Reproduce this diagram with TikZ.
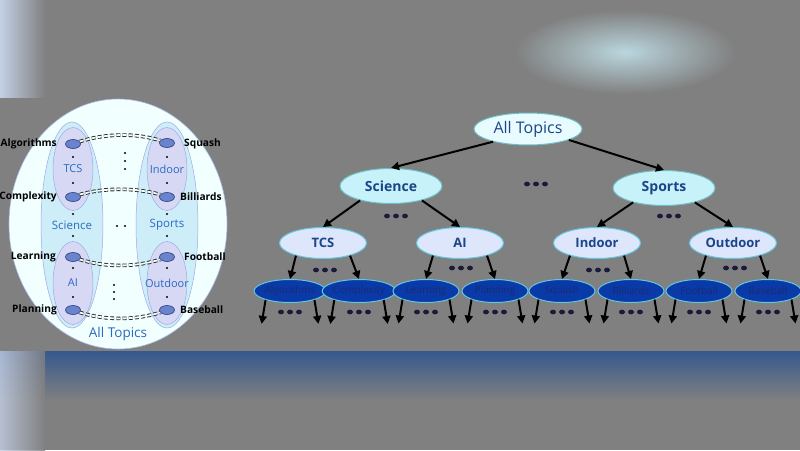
\documentclass[tikz,border=0pt]{standalone}
\usepackage{fontspec}
\setmainfont{Open Sans}
\usetikzlibrary{shapes.geometric,arrows.meta}
\definecolor{bggray}{HTML}{808080}
\definecolor{outerfill}{HTML}{F2FFFF}
\definecolor{outerline}{HTML}{A8B8E8}
\definecolor{midfill}{HTML}{CDEEF8}
\definecolor{innerfill}{HTML}{D6D8F4}
\definecolor{innerline}{HTML}{A0A8E4}
\definecolor{smallfill}{HTML}{6A84CC}
\definecolor{smallline}{HTML}{2A3A80}
\definecolor{lblue}{HTML}{2A6AC0}
\definecolor{rootfill}{HTML}{E8FCFF}
\definecolor{tealline}{HTML}{6EC0C8}
\definecolor{lvlone}{HTML}{C8F2FA}
\definecolor{lvltwo}{HTML}{DDE6FB}
\definecolor{leaffill}{HTML}{0A3AA8}
\definecolor{leafline}{HTML}{60C8E0}
\definecolor{treetext}{HTML}{1C4488}
\definecolor{leaftext}{HTML}{1A2A70}
\definecolor{dotcol}{HTML}{1A1A3A}
\definecolor{blob}{HTML}{BAD6DE}
\definecolor{bandblue}{HTML}{36588E}
\definecolor{edgelight}{HTML}{C4D0E6}
\newcommand\dotrow[2]{\foreach \dd in {-9,0,9}{\fill[dotcol] (#1+\dd,#2) ellipse (3 and 2.4);}}
\newcommand\smalldot[2]{\fill[black] (#1,#2) circle (1.2);}
\tikzset{
  bigell/.style={ellipse, draw=outerline, line width=0.6pt, inner sep=0pt},
  midell/.style={ellipse, draw=innerline, fill=midfill, line width=0.5pt, inner sep=0pt, minimum width=62, minimum height=206},
  inell/.style={ellipse, draw=innerline, fill=innerfill, line width=0.5pt, inner sep=0pt, minimum width=40, minimum height=83},
  smallell/.style={ellipse, draw=smallline, fill=smallfill, line width=0.6pt, inner sep=0pt, minimum width=15, minimum height=9},
  ltxt/.style={font=\fontsize{10.2}{12}\selectfont\bfseries, text=black, inner sep=1pt},
  btxt/.style={font=\fontsize{11}{13}\selectfont, text=lblue, inner sep=0pt},
  dconn/.style={dash pattern=on 4pt off 2.2pt, double=outerfill, double distance=1.8pt, line width=0.9pt, draw=black!85},
  rootn/.style={ellipse, draw=tealline, fill=rootfill, line width=1pt, minimum width=108, minimum height=32, inner sep=0pt, font=\fontsize{16}{18}\selectfont, text=treetext},
  onen/.style={ellipse, draw=tealline, fill=lvlone, line width=1pt, minimum width=102, minimum height=35, inner sep=0pt, font=\fontsize{14}{16}\selectfont\bfseries, text=treetext},
  twon/.style={ellipse, draw=leafline, fill=lvltwo, line width=1pt, minimum width=87, minimum height=31, inner sep=0pt, font=\fontsize{13}{15}\selectfont\bfseries, text=treetext},
  leafn/.style={ellipse, draw=leafline, fill=leaffill, line width=1pt, minimum width=66, minimum height=23, inner sep=0pt, font=\fontsize{10}{12}\selectfont, text=leaftext},
  tarr/.style={line width=2pt, -{Triangle[length=8pt,width=8pt]}, draw=black},
}
\begin{document}
\begin{tikzpicture}[x=1pt,y=-1pt]
\useasboundingbox (0,0) rectangle (800,450);
% background
\fill[bggray] (0,0) rectangle (800,450);
\shade[inner color=blob, outer color=bggray] (625,52) ellipse (110 and 42);
\shade[left color=edgelight, right color=bggray] (0,0) rectangle (45,98);
\shade[top color=bandblue, bottom color=bggray] (0,351) rectangle (800,400);
\shade[left color=edgelight, right color=bggray, opacity=0.8] (0,351) rectangle (45,450);
\fill[bggray] (0,98) rectangle (800,351);

% ---------------- left panel ----------------
\node[bigell, fill=outerfill, minimum width=218, minimum height=250] (outer) at (118,224) {};
\node[midell] (scie) at (72,225) {};
\node[midell] (spoe) at (167,225) {};
\node[inell] (tcse) at (73,169) {};
\node[inell] (aie) at (73,283) {};
\node[inell] (inde) at (167,169) {};
\node[inell] (oute) at (167,283) {};

\node[smallell] (la) at (73,144) {};
\node[smallell] (lc) at (73,197) {};
\node[smallell] (ll) at (73,257) {};
\node[smallell] (lp) at (73,310) {};
\node[smallell] (rs) at (167,143) {};
\node[smallell] (rb) at (167,197) {};
\node[smallell] (rf) at (167,257) {};
\node[smallell] (rba) at (167,310) {};

\node[ltxt, anchor=east] (tA) at (58,144) {Algorithms};
\node[ltxt, anchor=east] (tC) at (58,197) {Complexity};
\node[ltxt, anchor=east] (tL) at (57,257) {Learning};
\node[ltxt, anchor=east] (tP) at (58,310) {Planning};
\node[ltxt, anchor=west] (tS) at (183,144) {Squash};
\node[ltxt, anchor=west] (tB) at (179,197) {Billiards};
\node[ltxt, anchor=west] (tF) at (183,257) {Football};
\node[ltxt, anchor=west] (tBa) at (179,310) {Baseball};

\node[btxt] (lTCS) at (73,169) {TCS};
\node[btxt] (lAI) at (73,283) {AI};
\node[btxt] (lInd) at (167,169) {Indoor};
\node[btxt] (lOut) at (167,283) {Outdoor};
\node[btxt, font=\fontsize{11.5}{13}\selectfont] (lSci) at (72,225) {Science};
\node[btxt, font=\fontsize{11.5}{13}\selectfont] (lSpo) at (167,225) {Sports};
\node[btxt, font=\fontsize{13.5}{15}\selectfont] (lAll) at (118,334) {All Topics};

% dashed double connectors
\draw[dconn] (la.20) .. controls +(25,-8) and +(-25,-8) .. (rs.160);
\draw[dconn] (lc.20) .. controls +(25,-7) and +(-25,-7) .. (rb.160);
\draw[dconn] (ll.-20) .. controls +(25,8) and +(-25,8) .. (rf.200);
\draw[dconn] (lp.-20) .. controls +(25,8) and +(-25,8) .. (rba.200);

% vertical dots inside columns
\foreach \xx in {73,167}{
  \foreach \yy in {157,183,214,236,268,297}{\smalldot{\xx}{\yy}}
}
% dots between columns
\smalldot{125}{153}\smalldot{125}{161}\smalldot{125}{169}
\smalldot{117}{226}\smalldot{125}{226}
\smalldot{114}{285}\smalldot{114}{292}\smalldot{114}{299}

% ---------------- right tree ----------------
\node[rootn] (all) at (528,129) {All Topics};
\node[onen] (sci) at (391,186) {Science};
\node[onen] (spo) at (664,188) {Sports};
\node[twon] (tcs) at (323,243) {TCS};
\node[twon] (ai) at (460,243) {AI};
\node[twon] (ind) at (597,243) {Indoor};
\node[twon] (out) at (733,243) {Outdoor};

\node[leafn] (alg) at (290,291) {Algorithms};
\node[leafn] (com) at (359,291) {Complexity};
\node[leafn] (lea) at (426,291) {Learning};
\node[leafn] (pla) at (495,291) {Planning};
\node[leafn] (squ) at (562,291) {Squash};
\node[leafn] (bil) at (631,291) {Billiards};
\node[leafn] (foo) at (699,291) {Football};
\node[leafn] (bas) at (768,291) {Baseball};

\draw[tarr] (all.200) -- (sci.north);
\draw[tarr] (all.-15) -- (spo.north);
\draw[tarr] (sci.205) -- (tcs.north);
\draw[tarr] (sci.-25) -- (ai.north);
\draw[tarr] (spo.205) -- (ind.north);
\draw[tarr] (spo.-25) -- (out.north);
\foreach \p/\a/\b in {tcs/alg/com, ai/lea/pla, ind/squ/bil, out/foo/bas}{
  \draw[tarr] (\p.205) -- (\a.north);
  \draw[tarr] (\p.-25) -- (\b.north);
}
\foreach \l in {alg,com,lea,pla,squ,bil,foo,bas}{
  \draw[tarr] (\l.200) -- ++(-4,24);
  \draw[tarr] (\l.-20) -- ++(4,24);
}

\dotrow{536}{184}
\dotrow{396}{216}
\dotrow{669}{216}
\dotrow{325}{270}
\dotrow{461}{268}
\dotrow{598}{270}
\dotrow{735}{268}
\foreach \xx in {290,359,426,495,562,631,699,768}{\dotrow{\xx}{312}}
\end{tikzpicture}
\end{document}
